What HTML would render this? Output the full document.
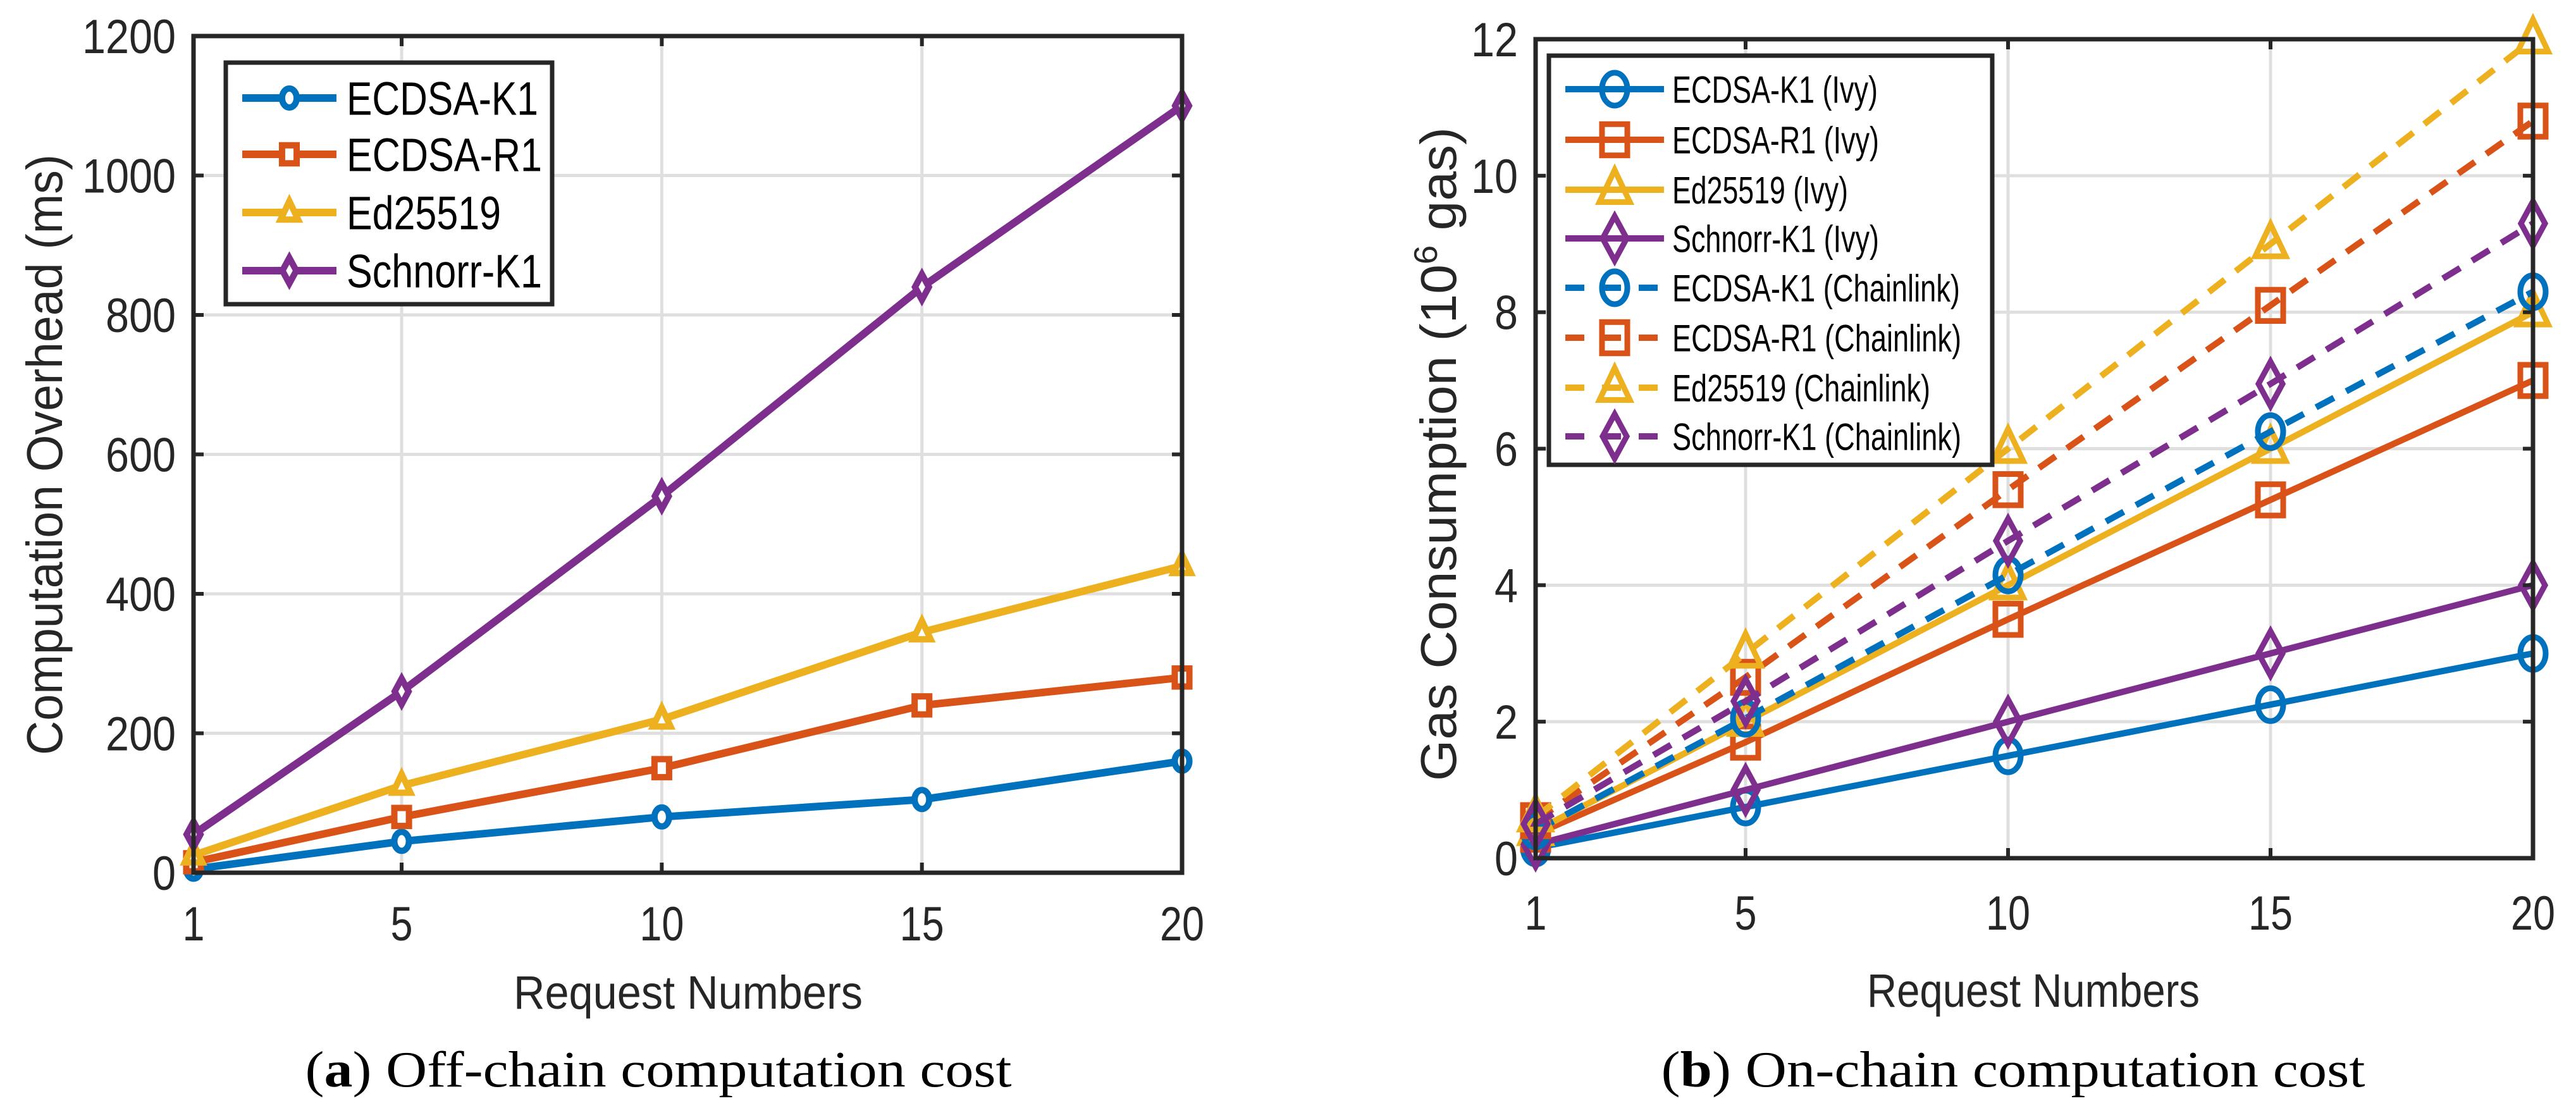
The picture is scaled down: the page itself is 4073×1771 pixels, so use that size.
<!DOCTYPE html>
<html><head><meta charset="utf-8"><style>
html,body{margin:0;padding:0;background:#fff;}
svg{display:block;font-family:"Liberation Sans",Arial,sans-serif;}
</style></head><body>
<svg id="fig" width="4073" height="1771" viewBox="0 0 4073 1771" xmlns="http://www.w3.org/2000/svg">
<rect width="4073" height="1771" fill="#fff"/>
<g id="chartA"></g>
<g id="chartB"></g>
</svg>
<script>
const xCategories = [1, 5, 10, 15, 20];
const xTickLabels = ["1", "5", "10", "15", "20"];
const aYTicks = [0, 200, 400, 600, 800, 1000, 1200];
const aK1 = [5, 45, 80, 105, 160];
const aR1 = [15, 80, 150, 240, 280];
const aEd = [25, 125, 220, 345, 440];
const aSchnorr = [55, 260, 540, 840, 1100];
const bYTicks = [0, 2, 4, 6, 8, 10, 12];
const bK1Ivy = [0.15, 0.75, 1.5, 2.25, 3.0];
const bR1Ivy = [0.35, 1.7, 3.5, 5.25, 7.0];
const bEdIvy = [0.4, 2.0, 4.0, 6.0, 8.0];
const bSchIvy = [0.2, 1.0, 2.0, 3.0, 4.0];
const bK1Cl = [0.4, 2.05, 4.15, 6.25, 8.3];
const bR1Cl = [0.55, 2.65, 5.4, 8.1, 10.8];
const bEdCl = [0.6, 3.0, 6.0, 9.0, 12.0];
const bSchCl = [0.5, 2.3, 4.65, 6.95, 9.3];

const NS = "http://www.w3.org/2000/svg";
const C = {blue:"#0072BD", red:"#D95319", yel:"#EDB120", pur:"#7E2F8E", ax:"#262626", grid:"#dfdfdf"};
const SX = 0.77;
function mk(parent, tag, attrs, text) {
  const el = document.createElementNS(NS, tag);
  for (const k in attrs) el.setAttribute(k, attrs[k]);
  if (text !== undefined) el.textContent = text;
  parent.appendChild(el);
  return el;
}
function marker(g, shape, cx, cy, r, color, sw, fill) {
  let el;
  if (shape === "o") el = mk(g, "ellipse", {cx:cx, cy:cy, rx:r*SX, ry:r, fill:fill, stroke:color, "stroke-width":sw});
  else if (shape === "s") el = mk(g, "rect", {x:cx-r*SX, y:cy-r*0.95, width:2*r*SX, height:1.9*r, fill:fill, stroke:color, "stroke-width":sw});
  else if (shape === "^") el = mk(g, "polygon", {points:`${cx},${cy-r*1.2} ${cx+r*SX*1.2},${cy+r*0.75} ${cx-r*SX*1.2},${cy+r*0.75}`, fill:fill, stroke:color, "stroke-width":sw, "stroke-linejoin":"miter"});
  else el = mk(g, "polygon", {points:`${cx},${cy-r*1.35} ${cx+r*SX*0.95},${cy} ${cx},${cy+r*1.35} ${cx-r*SX*0.95},${cy}`, fill:fill, stroke:color, "stroke-width":sw});
  return el;
}

function drawChart(g, cfg) {
  const X = v => cfg.x0 + (v - 1) / 19 * (cfg.x1 - cfg.x0);
  const Y = v => cfg.y0 - v / cfg.yMax * (cfg.y0 - cfg.y1);
  xCategories.forEach(v => {
    const l = mk(g, "line", {x1:X(v), x2:X(v), y1:cfg.y1, y2:cfg.y0, stroke:C.grid, "stroke-width":5});
    
    
  });
  cfg.yTicks.forEach(v => {
    const l = mk(g, "line", {x1:cfg.x0, x2:cfg.x1, y1:Y(v), y2:Y(v), stroke:C.grid, "stroke-width":5});
    
    
  });
  cfg.series.forEach(s => {
    const sg = mk(g, "g", {});
    
    
    const pts = s.data.map((v, i) => X(xCategories[i]) + "," + Y(v)).join(" ");
    const pl = mk(sg, "polyline", {points:pts, fill:"none", stroke:s.color, "stroke-width":cfg.lw, "stroke-dasharray":s.dash ? "32 22" : "none"});
    
    
    s.data.forEach((v, i) => {
      const m = marker(sg, s.shape, X(xCategories[i]), Y(v), cfg.mr, s.color, cfg.msw, cfg.mfill);
      
      
    });
  });
  const box = mk(g, "rect", {x:cfg.x0, y:cfg.y1, width:cfg.x1-cfg.x0, height:cfg.y0-cfg.y1, fill:"none", stroke:C.ax, "stroke-width":7});
  
  
  const tl = 16;
  xCategories.forEach((v, i) => {
    mk(g, "line", {x1:X(v), x2:X(v), y1:cfg.y0, y2:cfg.y0-tl, stroke:C.ax, "stroke-width":6});
    mk(g, "line", {x1:X(v), x2:X(v), y1:cfg.y1, y2:cfg.y1+tl, stroke:C.ax, "stroke-width":6});
    const lab = xTickLabels[i];
    const t = mk(g, "text", {x:X(v), y:cfg.xTickY, "font-size":76, fill:C.ax, "text-anchor":"middle", textLength:lab.length*35, lengthAdjust:"spacingAndGlyphs"}, lab);
    
    
  });
  cfg.yTicks.forEach(v => {
    mk(g, "line", {x1:cfg.x0, x2:cfg.x0+tl, y1:Y(v), y2:Y(v), stroke:C.ax, "stroke-width":6});
    mk(g, "line", {x1:cfg.x1, x2:cfg.x1-tl, y1:Y(v), y2:Y(v), stroke:C.ax, "stroke-width":6});
    const lab = String(v);
    const t = mk(g, "text", {x:cfg.x0-28, y:Y(v)+27, "font-size":76, fill:C.ax, "text-anchor":"end", textLength:lab.length*37, lengthAdjust:"spacingAndGlyphs"}, lab);
    
    
  });
  const L = cfg.legend;
  const lg = mk(g, "g", {});
  
  
  mk(lg, "rect", {x:L.x, y:L.y, width:L.w, height:L.h, fill:"#fff", stroke:C.ax, "stroke-width":7});
  cfg.series.forEach((s, i) => {
    const ey = L.rows[i];
    const eg = mk(lg, "g", {});
    
    
    mk(eg, "line", {x1:L.lx0, x2:L.lx1, y1:ey, y2:ey, stroke:s.color, "stroke-width":cfg.lw, "stroke-dasharray":s.dash ? "30 28" : "none"});
    marker(eg, s.shape, (L.lx0+L.lx1)/2, ey, cfg.mr, s.color, cfg.msw, cfg.mfill);
    mk(eg, "text", {x:L.tx, y:ey+L.fs*0.36, "font-size":L.fs, fill:"#000", textLength:L.lens[i], lengthAdjust:"spacingAndGlyphs"}, s.label);
  });
}

const gA = document.getElementById("chartA");
drawChart(gA, {
  x0:306, x1:1869, y0:1380, y1:57, yMax:1200, yTicks:aYTicks, xTickY:1487,
  lw:12, mr:15, msw:10, mfill:"#fff",
  series:[
    {name:"ecdsa-k1", label:"ECDSA-K1", data:aK1, color:C.blue, shape:"o"},
    {name:"ecdsa-r1", label:"ECDSA-R1", data:aR1, color:C.red, shape:"s"},
    {name:"ed25519", label:"Ed25519", data:aEd, color:C.yel, shape:"^"},
    {name:"schnorr-k1", label:"Schnorr-K1", data:aSchnorr, color:C.pur, shape:"d"}
  ],
  legend:{x:357, y:99, w:516, h:382, rows:[155,244,336,428], lx0:383, lx1:532, tx:548, fs:74, lens:[303,309,244,309]}
});
const gB = document.getElementById("chartB");
drawChart(gB, {
  x0:2428, x1:4005, y0:1357, y1:62, yMax:12, yTicks:bYTicks, xTickY:1470,
  lw:10, mr:26, msw:9, mfill:"none",
  series:[
    {name:"ecdsa-k1-ivy", label:"ECDSA-K1 (Ivy)", data:bK1Ivy, color:C.blue, shape:"o"},
    {name:"ecdsa-r1-ivy", label:"ECDSA-R1 (Ivy)", data:bR1Ivy, color:C.red, shape:"s"},
    {name:"ed25519-ivy", label:"Ed25519 (Ivy)", data:bEdIvy, color:C.yel, shape:"^"},
    {name:"schnorr-k1-ivy", label:"Schnorr-K1 (Ivy)", data:bSchIvy, color:C.pur, shape:"d"},
    {name:"ecdsa-k1-chainlink", label:"ECDSA-K1 (Chainlink)", data:bK1Cl, color:C.blue, shape:"o", dash:true},
    {name:"ecdsa-r1-chainlink", label:"ECDSA-R1 (Chainlink)", data:bR1Cl, color:C.red, shape:"s", dash:true},
    {name:"ed25519-chainlink", label:"Ed25519 (Chainlink)", data:bEdCl, color:C.yel, shape:"^", dash:true},
    {name:"schnorr-k1-chainlink", label:"Schnorr-K1 (Chainlink)", data:bSchCl, color:C.pur, shape:"d", dash:true}
  ],
  legend:{x:2449, y:88, w:701, h:647, rows:[141,221,300,377,455,534,613,690], lx0:2475, lx1:2631, tx:2644, fs:60, lens:[325,327,278,327,455,457,408,457]}
});
</script>
<svg style="position:absolute;left:0;top:0" width="4073" height="1771" xmlns="http://www.w3.org/2000/svg" font-family="Liberation Sans, Arial, sans-serif">
<text x="0" y="0" transform="translate(98,719) rotate(-90)" font-size="80" fill="#262626" text-anchor="middle" textLength="950" lengthAdjust="spacingAndGlyphs">Computation Overhead (ms)</text>
<text x="1088" y="1595" font-size="74" fill="#262626" text-anchor="middle" textLength="552" lengthAdjust="spacingAndGlyphs">Request Numbers</text>
<text x="1041" y="1718" font-size="80" fill="#000" text-anchor="middle" font-family="Liberation Serif, serif" textLength="1117" lengthAdjust="spacingAndGlyphs">(<tspan font-weight="bold">a</tspan>) Off-chain computation cost</text>
<text x="0" y="0" transform="translate(2302,718) rotate(-90)" font-size="80" fill="#262626" text-anchor="middle" textLength="1034" lengthAdjust="spacingAndGlyphs">Gas Consumption (10<tspan font-size="52" dy="-30">6</tspan><tspan dy="30"> gas)</tspan></text>
<text x="3215" y="1592" font-size="74" fill="#262626" text-anchor="middle" textLength="526" lengthAdjust="spacingAndGlyphs">Request Numbers</text>
<text x="3183" y="1718" font-size="80" fill="#000" text-anchor="middle" font-family="Liberation Serif, serif" textLength="1113" lengthAdjust="spacingAndGlyphs">(<tspan font-weight="bold">b</tspan>) On-chain computation cost</text>
</svg>
</body></html>
